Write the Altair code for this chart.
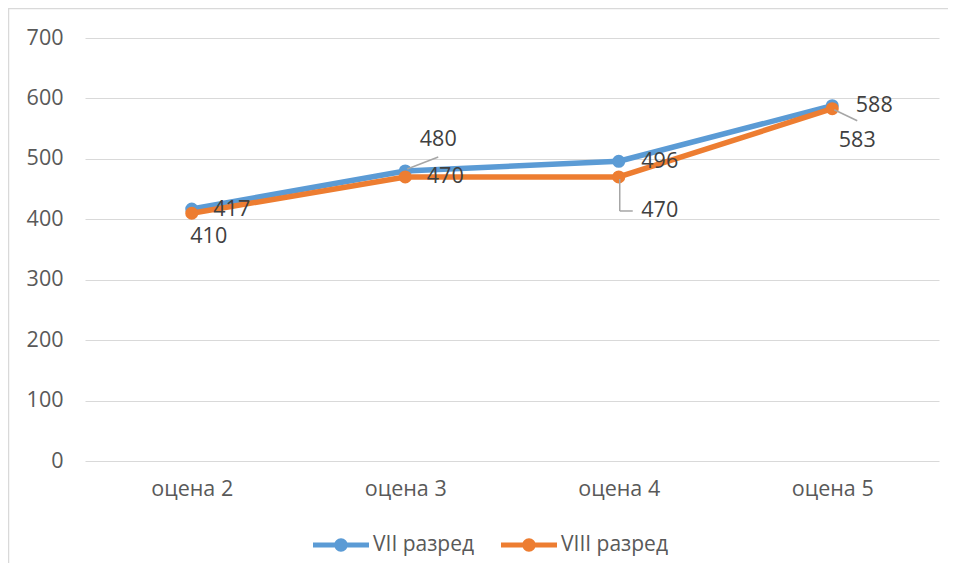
import altair as alt
import pandas as pd

categories = ["оцена 2", "оцена 3", "оцена 4", "оцена 5"]
series_names = ["VII разред", "VIII разред"]
vii_values = [417, 480, 496, 588]
viii_values = [410, 470, 470, 583]
y_ticks = [0, 100, 200, 300, 400, 500, 600, 700]
colors = ["#5B9BD5", "#ED7D31"]

rows = []
for c, v in zip(categories, vii_values):
    rows.append({"cat": c, "series": series_names[0], "value": v})
for c, v in zip(categories, viii_values):
    rows.append({"cat": c, "series": series_names[1], "value": v})
df = pd.DataFrame(rows)

FONT = "Open Sans"
FS = 21.5
W, H = 854, 423

xenc = alt.X("cat:N", sort=categories,
             scale=alt.Scale(type="point", padding=0.5),
             axis=alt.Axis(title=None, labelAngle=0, domain=False, ticks=False,
                           grid=False, labelFont=FONT, labelFontSize=FS,
                           labelColor="#595959", labelPadding=17))
yenc = alt.Y("value:Q", scale=alt.Scale(domain=[0, 700], nice=False, zero=True),
             axis=alt.Axis(title=None, values=y_ticks, domain=False, ticks=False,
                           grid=True, gridColor="#d9d9d9", gridWidth=1.2,
                           labelFont=FONT, labelFontSize=FS, labelColor="#595959",
                           labelPadding=22))

base = alt.Chart(df)

border = alt.Chart(pd.DataFrame({"a": [0]})).mark_rect(
    fill=None, stroke="#d9d9d9", strokeWidth=1.5
).encode(x=alt.value(-76.5), x2=alt.value(W + 200), y=alt.value(-29.5), y2=alt.value(H + 300))

SYM = ("M-1,-0.09L1,-0.09L1,0.09L-1,0.09Z "
       "M-0.24,0 A0.24,0.24 0 1,1 0.24,0 A0.24,0.24 0 1,1 -0.24,0 Z")
legend = alt.Legend(
    title=None, orient="none", direction="horizontal", legendX=228, legendY=479,
    symbolType=SYM, symbolSize=3136, symbolStrokeWidth=0, symbolOpacity=1,
    labelFont=FONT, labelFontSize=21, labelColor="#595959", labelOffset=4,
    columnPadding=26, padding=0)

color_scale = alt.Scale(domain=series_names, range=colors)

layers = []
for i, s in enumerate(series_names):
    sub = base.transform_filter(alt.datum.series == s)
    layers.append(sub.mark_line(strokeWidth=5.5, strokeCap="round", strokeJoin="round",
                                color=colors[i]).encode(x=xenc, y=yenc))
    layers.append(sub.mark_circle(size=170, opacity=1).encode(
        x=xenc, y=yenc,
        fill=alt.Fill("series:N", scale=color_scale, legend=legend)))


def label(series, cat, dx, dy):
    return base.transform_filter(
        (alt.datum.series == series) & (alt.datum.cat == cat)
    ).mark_text(font=FONT, fontSize=FS, color="#404040", align="center",
                baseline="middle", dx=dx, dy=dy).encode(
        x=xenc, y=yenc, text=alt.Text("value:Q"))


def leader(series, cat, xo, yo, x2o, y2o):
    return base.transform_filter(
        (alt.datum.series == series) & (alt.datum.cat == cat)
    ).mark_rule(color="#a6a6a6", strokeWidth=1.5,
                xOffset=xo, yOffset=yo, x2Offset=x2o, y2Offset=y2o).encode(
        x=xenc, y=yenc, x2="cat:N", y2="value:Q")


s7, s8 = series_names
labels = [
    label(s7, categories[0], 40, 1),
    label(s8, categories[0], 17, 24),
    label(s7, categories[1], 33, -31),
    label(s8, categories[1], 40, 0),
    label(s7, categories[2], 41, 1),
    label(s8, categories[2], 41, 34),
    label(s7, categories[3], 42, 0),
    label(s8, categories[3], 25, 32),
]
leaders = [
    leader(s7, categories[1], 2, -2, 33, -14),
    leader(s8, categories[2], 1, 2, 1, 34),
    leader(s8, categories[2], 1, 34, 14, 34),
    leader(s8, categories[3], 2, 1, 25, 12),
]

chart = alt.layer(
    border, *layers, *leaders, *labels
).properties(
    width=W, height=H,
    autosize=alt.AutoSizeParams(type="none"),
    padding={"left": 77, "top": 30, "right": 9, "bottom": 102},
    background="white",
).configure_view(stroke=None)

chart.save("out.html", embed_options={"renderer": "svg", "actions": False})
